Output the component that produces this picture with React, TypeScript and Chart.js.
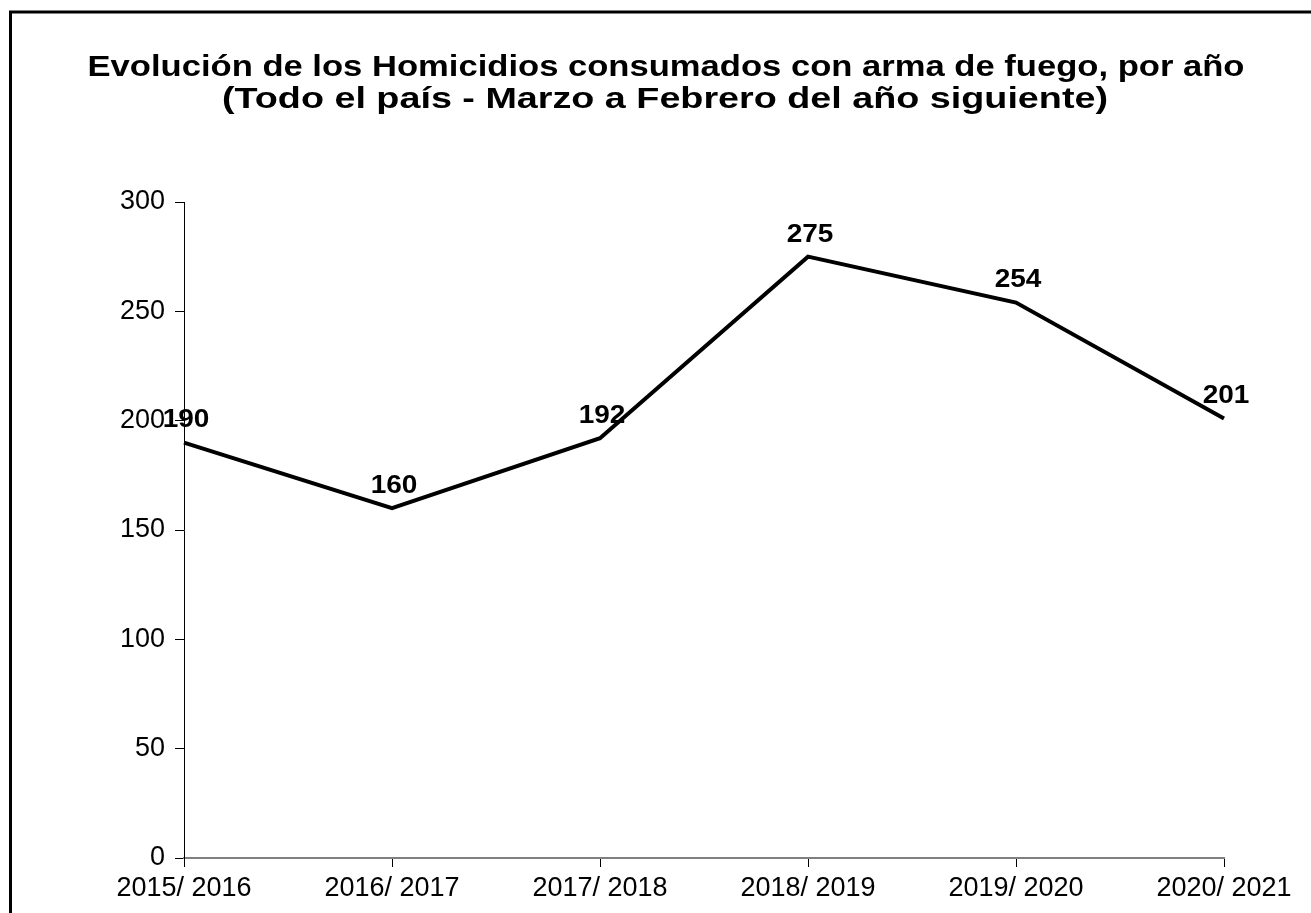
import React, { useEffect, useRef } from "react";
import { Chart, registerables } from "chart.js";

Chart.register(...registerables);

const categories = ["2015/ 2016", "2016/ 2017", "2017/ 2018", "2018/ 2019", "2019/ 2020", "2020/ 2021"];
const homicidios = [190, 160, 192, 275, 254, 201];
const titleLines = [
  "Evolución de los Homicidios consumados con arma de fuego, por año",
  "(Todo el país - Marzo a Febrero del año siguiente)",
];

const FONT = "'Liberation Sans', Arial, sans-serif";

function stretchedText(ctx: any, text: string, x: number, y: number, sx: number) {
  ctx.save();
  ctx.translate(x, y);
  ctx.scale(sx, 1);
  ctx.fillText(text, 0, 0);
  ctx.restore();
}

const decorPlugin = {
  id: "decor",
  beforeDraw(chart: any) {
    const ctx = chart.ctx;
    ctx.save();
    ctx.fillStyle = "#ffffff";
    ctx.fillRect(0, 0, chart.width, chart.height);
    ctx.strokeStyle = "#000000";
    ctx.lineWidth = 3;
    ctx.beginPath();
    ctx.moveTo(10.5, chart.height + 5);
    ctx.lineTo(10.5, 12);
    ctx.lineTo(chart.width + 5, 12);
    ctx.stroke();
    ctx.fillStyle = "#000000";
    ctx.font = `bold 29px ${FONT}`;
    ctx.textAlign = "center";
    ctx.textBaseline = "alphabetic";
    const w1 = ctx.measureText(titleLines[0]).width;
    const w2 = ctx.measureText(titleLines[1]).width;
    stretchedText(ctx, titleLines[0], 666, 76, 1157 / w1);
    stretchedText(ctx, titleLines[1], 665, 108, 886 / w2);
    ctx.restore();
  },
  afterDatasetsDraw(chart: any) {
    const ctx = chart.ctx;
    const meta = chart.getDatasetMeta(0);
    ctx.save();
    ctx.fillStyle = "#000000";
    ctx.font = `bold 25px ${FONT}`;
    ctx.textAlign = "center";
    ctx.textBaseline = "middle";
    meta.data.forEach((pt: any, i: number) => {
      stretchedText(ctx, String(homicidios[i]), pt.x + 2, pt.y - 22, 1.12);
    });
    ctx.restore();
  },
};

export default function App() {
  const ref = useRef<HTMLCanvasElement>(null);
  useEffect(() => {
    if (!ref.current) return;
    const chart = new Chart(ref.current, {
      type: "line",
      data: {
        labels: categories,
        datasets: [
          {
            data: homicidios,
            borderColor: "#000000",
            borderWidth: 4,
            pointRadius: 0,
            tension: 0,
            fill: false,
          },
        ],
      },
      options: {
        animation: false,
        responsive: false,
        maintainAspectRatio: false,
        layout: { padding: { left: 0, top: 202, right: 87, bottom: 0 } },
        plugins: { legend: { display: false }, title: { display: false }, tooltip: { enabled: false } },
        scales: {
          x: {
            offset: false,
            grid: { drawOnChartArea: false, drawTicks: true, tickLength: 9, color: "#000000" },
            border: { color: "#808080", width: 2 },
            ticks: { color: "#000000", font: { family: FONT, size: 27 }, padding: 5, maxRotation: 0, autoSkip: false },
            afterFit: (s: any) => { s.height = 55; },
          },
          y: {
            min: 0,
            max: 300,
            grid: { drawOnChartArea: false, drawTicks: true, tickLength: 9, color: "#000000" },
            border: { color: "#000000", width: 1 },
            ticks: { stepSize: 50, color: "#000000", font: { family: FONT, size: 27 }, padding: 10 },
            afterFit: (s: any) => { s.width = 184; },
          },
        },
      },
      plugins: [decorPlugin],
    });
    return () => chart.destroy();
  }, []);
  return (
    <div style={{ position: "fixed", left: 0, top: 0, width: 1311, height: 913, overflow: "hidden", background: "#fff" }}>
      <canvas ref={ref} width={1311} height={913} style={{ display: "block", width: 1311, height: 913 }} />
    </div>
  );
}
